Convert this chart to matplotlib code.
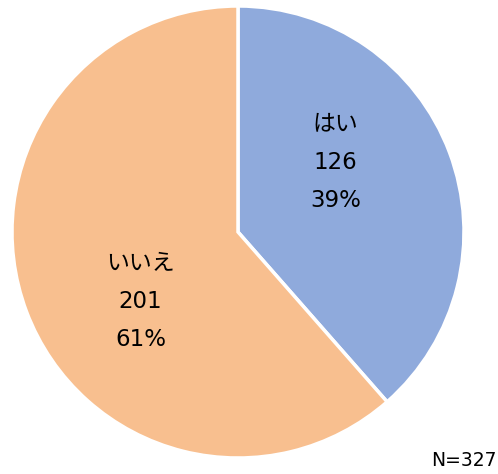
import matplotlib
matplotlib.use("Agg")
import matplotlib.pyplot as plt
import numpy as np

plt.rcParams['font.family'] = ['DejaVu Sans', 'Noto Sans CJK JP']

categories = ["はい", "いいえ"]
counts = [126, 201]
percents = ["39%", "61%"]
total_label = "N=327"
colors = ["#8FAADC", "#F8BF8F"]

W, H = 498, 474
fig = plt.figure(figsize=(W / 100, H / 100), dpi=100)
cx, cy, R = 238, 232, 226
ax = fig.add_axes([(cx - R) / W, (H - cy - R) / H, 2 * R / W, 2 * R / H])
wedges, _ = ax.pie(counts, colors=colors, startangle=90, counterclock=False,
                   radius=1.0, wedgeprops=dict(edgecolor="white", linewidth=2.5))
ax.set_xlim(-1, 1)
ax.set_ylim(-1, 1)
ax.set_aspect("equal")
ax.axis("off")

step = 38 / R
for w, cat, n, p in zip(wedges, categories, counts, percents):
    mid = np.deg2rad((w.theta1 + w.theta2) / 2 + 15)
    x, y = 0.53 * np.cos(mid), 0.53 * np.sin(mid)
    for k, t in enumerate([cat, str(n), p]):
        ax.text(x, y + step * (1 - k), t, ha="center", va="center",
                fontsize=16.5, color="#000000")

fig.text(497 / W, 1 - 461 / H, total_label, ha="right", va="center",
         fontsize=13.5, color="#000000")
fig.savefig("out.png", dpi=100)
